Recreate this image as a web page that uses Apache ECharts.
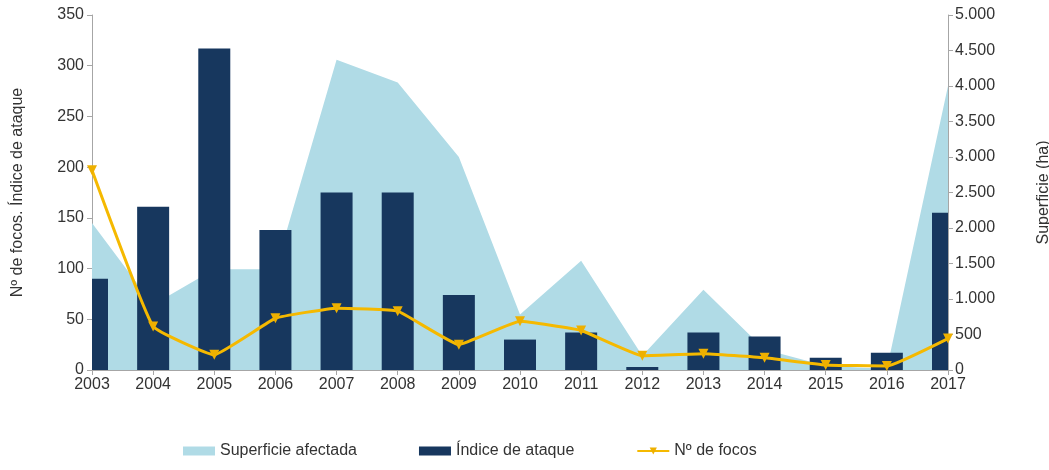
<!DOCTYPE html>
<html>
<head>
<meta charset="utf-8">
<script src="https://cdn.jsdelivr.net/npm/echarts@6/dist/echarts.min.js"></script>
<style>
html,body{margin:0;padding:0;background:#fff;}
#chart{width:1049px;height:470px;}
</style>
</head>
<body>
<div id="chart"></div>
<script>
const years = ['2003','2004','2005','2006','2007','2008','2009','2010','2011','2012','2013','2014','2015','2016','2017'];
const superficie = [2070, 920, 1420, 1420, 4370, 4050, 3000, 780, 1540, 200, 1130, 290, 60, 15, 4000];
const indiceAtaque = [90, 161, 317, 138, 175, 175, 74, 30, 37, 3, 37, 33, 12, 17, 155];
const focos = [197, 43, 15, 51, 61, 58, 25, 48, 39, 14, 16, 12, 5, 4, 31];
const leftTicks = [0, 350, 50];
const rightTicks = [0, 5000, 500];

const font = 'Liberation Sans, Arial, sans-serif';
const txt = '#333333';
const axisCol = '#a6a6a6';
const BAR_W = 32;

const chart = echarts.init(document.getElementById('chart'));
chart.setOption({
  animation: false,
  textStyle: {fontFamily: font},
  grid: {left: 92, right: 101, top: 15, bottom: 100, containLabel: false, outerBoundsMode: 'none'},
  legend: {
    bottom: 6, left: 178, itemGap: 62, itemWidth: 32, itemHeight: 9,
    textStyle: {fontSize: 16, color: txt, fontFamily: font},
    data: [
      {name: 'Superficie afectada', icon: 'rect'},
      {name: 'Índice de ataque', icon: 'rect'},
      {name: 'Nº de focos'}
    ]
  },
  xAxis: {
    type: 'category', data: years, boundaryGap: false,
    axisLine: {lineStyle: {color: axisCol}},
    axisTick: {lineStyle: {color: axisCol}, length: 5},
    axisLabel: {color: txt, fontSize: 16, margin: 7}
  },
  yAxis: [
    {
      type: 'value', min: leftTicks[0], max: leftTicks[1], interval: leftTicks[2],
      name: 'Nº de focos. Índice de ataque', nameLocation: 'middle', nameGap: 66, nameRotate: 90,
      nameTextStyle: {fontSize: 16, color: txt},
      axisLine: {show: true, lineStyle: {color: axisCol}},
      axisTick: {show: true, lineStyle: {color: axisCol}, length: 5},
      axisLabel: {color: txt, fontSize: 16, margin: 8},
      splitLine: {show: false}
    },
    {
      type: 'value', min: rightTicks[0], max: rightTicks[1], interval: rightTicks[2], position: 'right',
      name: 'Superficie (ha)', nameLocation: 'middle', nameGap: 88, nameRotate: 90,
      nameTextStyle: {fontSize: 16, color: txt},
      axisLine: {show: true, lineStyle: {color: axisCol}},
      axisTick: {show: true, lineStyle: {color: axisCol}, length: 5},
      axisLabel: {color: txt, fontSize: 16, margin: 7,
        formatter: v => String(v).replace(/\B(?=(\d{3})+(?!\d))/g, '.')},
      splitLine: {show: false}
    }
  ],
  series: [
    {
      name: 'Superficie afectada', type: 'line', yAxisIndex: 1, data: superficie,
      symbol: 'none', lineStyle: {width: 0}, itemStyle: {color: '#b0dbe6'},
      areaStyle: {color: '#b0dbe6', opacity: 1}, z: 1
    },
    {
      name: 'Índice de ataque', type: 'custom', yAxisIndex: 0,
      data: indiceAtaque.map((v, i) => [years[i], v]),
      encode: {x: 0, y: 1},
      itemStyle: {color: '#17375e'}, z: 2,
      renderItem: function (params, api) {
        const cat = api.value(0), v = api.value(1);
        const top = api.coord([cat, v]);
        const base = api.coord([cat, 0]);
        const cs = params.coordSys;
        const rect = echarts.graphic.clipRectByRect(
          {x: top[0] - BAR_W / 2, y: top[1], width: BAR_W, height: base[1] - top[1]},
          {x: cs.x, y: cs.y, width: cs.width, height: cs.height}
        );
        return rect && {type: 'rect', shape: rect, style: api.style()};
      }
    },
    {
      name: 'Nº de focos', type: 'line', yAxisIndex: 0, data: focos,
      smooth: 0.1, symbol: 'triangle', symbolRotate: 180, symbolSize: 10, showAllSymbol: true,
      lineStyle: {width: 3, color: '#f5b900'}, itemStyle: {color: '#eeb000'}, z: 3
    }
  ]
});
</script>
</body>
</html>
